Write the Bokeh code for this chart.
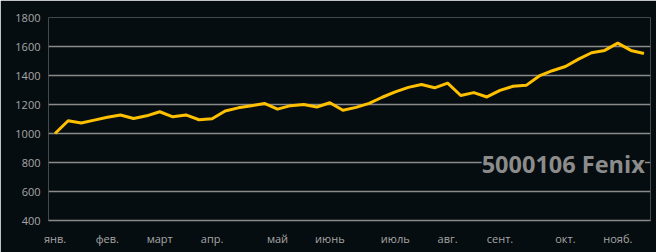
from bokeh.plotting import figure
from bokeh.models import FixedTicker, Range1d, Label
from bokeh.embed import file_html
from bokeh.resources import INLINE

values = [1000, 1088, 1072, 1092, 1112, 1128, 1103, 1122, 1150, 1115,
          1128, 1095, 1102, 1155, 1177, 1192, 1207, 1168, 1192, 1200,
          1183, 1212, 1160, 1180, 1208, 1250, 1287, 1318, 1338, 1315,
          1347, 1262, 1282, 1252, 1297, 1326, 1332, 1397, 1433, 1462,
          1513, 1557, 1573, 1623, 1573, 1552]
tick_positions = [0, 4, 8, 12, 17, 21, 26, 30, 34, 39, 43]
tick_labels = ["янв.", "фев.", "март", "апр.", "май", "июнь",
               "июль", "авг.", "сент.", "окт.", "нояб."]
y_ticks = [400, 600, 800, 1000, 1200, 1400, 1600, 1800]
title_text = "5000106 Fenix"

BG = "#060d10"
x = list(range(len(values)))

p = figure(width=656, height=252, output_backend="svg", toolbar_location=None,
           x_range=Range1d(-0.5, len(values) - 0.5), y_range=Range1d(400, 1800),
           min_border_left=48, min_border_right=6, min_border_top=17,
           min_border_bottom=32)
p.background_fill_color = BG
p.border_fill_color = BG
p.outline_line_color = None

p.xgrid.visible = False
p.ygrid.ticker = FixedTicker(ticks=y_ticks)
p.ygrid.grid_line_color = "#8a8a8a"
p.ygrid.grid_line_width = 1.5

p.yaxis.ticker = FixedTicker(ticks=y_ticks)
p.yaxis.axis_line_color = None
p.yaxis.major_tick_line_color = None
p.yaxis.major_tick_out = 0
p.yaxis.minor_tick_line_color = None
p.yaxis.major_label_standoff = 8
p.yaxis.major_label_text_color = "#a6a6a6"
p.yaxis.major_label_text_font = "Open Sans"
p.yaxis.major_label_text_font_size = "11px"

p.xaxis.ticker = FixedTicker(ticks=tick_positions)
p.xaxis.major_label_overrides = {t: l for t, l in zip(tick_positions, tick_labels)}
p.xaxis.axis_line_color = "#8a8a8a"
p.xaxis.axis_line_width = 1.5
p.xaxis.major_tick_line_color = None
p.xaxis.major_tick_out = 0
p.xaxis.major_tick_in = 0
p.xaxis.minor_tick_line_color = None
p.xaxis.minor_tick_out = 0
p.xaxis.major_label_standoff = 10
p.xaxis.major_label_text_color = "#a6a6a6"
p.xaxis.major_label_text_font = "Open Sans"
p.xaxis.major_label_text_font_size = "11px"

p.line(x, values, line_color="#ffc000", line_width=3, line_join="round")

lab = Label(x=32.6, y=793, text=title_text, text_align="left",
            text_baseline="middle", text_color="#8c8c8c",
            text_font="Open Sans", text_font_style="bold",
            text_font_size="23.5px", background_fill_color=BG,
            background_fill_alpha=1.0)
p.add_layout(lab)

open("out.html", "w").write(file_html(p, INLINE))
